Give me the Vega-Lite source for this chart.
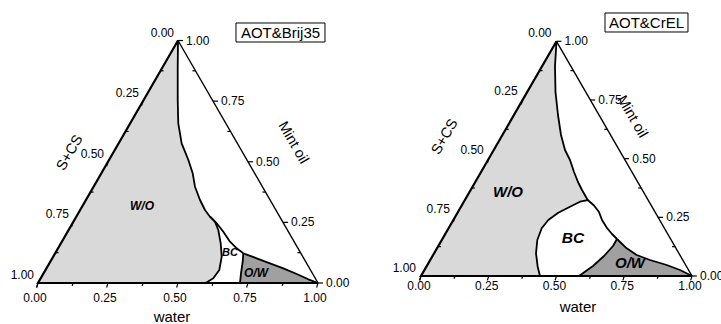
{
  "$schema": "https://vega.github.io/schema/vega-lite/v6.json",
  "padding": 0,
  "spacing": 0,
  "bounds": "flush",
  "config": {"view": {"stroke": null}, "text": {"font": "Liberation Sans", "color": "#000"}},
  "datasets": {
    "lines": [
      {"p":"A","s":"lb","i":0,"x":0.5,"y":0.866},{"p":"A","s":"lb","i":1,"x":0,"y":0},{"p":"A","s":"lb","i":2,"x":1,"y":0},
      {"p":"A","s":"r","i":0,"x":1,"y":0},{"p":"A","s":"r","i":1,"x":0.5,"y":0.866},

      {"p":"L","s":"wo","i":0,"x":0,"y":0},
      {"p":"L","s":"wo","i":1,"x":0.5,"y":0.866},
      {"p":"L","s":"wo","i":2,"x":0.499,"y":0.7725},
      {"p":"L","s":"wo","i":3,"x":0.499,"y":0.6536},
      {"p":"L","s":"wo","i":4,"x":0.501,"y":0.5704},
      {"p":"L","s":"wo","i":5,"x":0.513,"y":0.4989},
      {"p":"L","s":"wo","i":6,"x":0.537,"y":0.4393},
      {"p":"L","s":"wo","i":7,"x":0.5525,"y":0.3918},
      {"p":"L","s":"wo","i":8,"x":0.5607,"y":0.3439},
      {"p":"L","s":"wo","i":9,"x":0.5786,"y":0.2964},
      {"p":"L","s":"wo","i":10,"x":0.5964,"y":0.2607},
      {"p":"L","s":"wo","i":11,"x":0.6143,"y":0.2368},
      {"p":"L","s":"wo","i":12,"x":0.6321,"y":0.2189},
      {"p":"L","s":"wo","i":13,"x":0.6439,"y":0.1893},
      {"p":"L","s":"wo","i":14,"x":0.6525,"y":0.1418},
      {"p":"L","s":"wo","i":15,"x":0.6561,"y":0.0939},
      {"p":"L","s":"wo","i":16,"x":0.6475,"y":0.0464},
      {"p":"L","s":"wo","i":17,"x":0.6261,"y":0.0168},
      {"p":"L","s":"wo","i":18,"x":0.6046,"y":0.0036},
      {"p":"L","s":"wo","i":19,"x":0.5964,"y":0},

      {"p":"L","s":"ow","i":0,"x":0.7332,"y":0.1061},
      {"p":"L","s":"ow","i":1,"x":0.7811,"y":0.0882},
      {"p":"L","s":"ow","i":2,"x":0.8286,"y":0.0704},
      {"p":"L","s":"ow","i":3,"x":0.8761,"y":0.0525},
      {"p":"L","s":"ow","i":4,"x":0.9239,"y":0.0321},
      {"p":"L","s":"ow","i":5,"x":0.9654,"y":0.0132},
      {"p":"L","s":"ow","i":6,"x":1,"y":0},
      {"p":"L","s":"ow","i":7,"x":0.7214,"y":0},
      {"p":"L","s":"ow","i":8,"x":0.725,"y":0.0346},
      {"p":"L","s":"ow","i":9,"x":0.7311,"y":0.0761},

      {"p":"L","s":"c1","i":1,"x":0.5,"y":0.866},
      {"p":"L","s":"c1","i":2,"x":0.499,"y":0.7725},
      {"p":"L","s":"c1","i":3,"x":0.499,"y":0.6536},
      {"p":"L","s":"c1","i":4,"x":0.501,"y":0.5704},
      {"p":"L","s":"c1","i":5,"x":0.513,"y":0.4989},
      {"p":"L","s":"c1","i":6,"x":0.537,"y":0.4393},
      {"p":"L","s":"c1","i":7,"x":0.5525,"y":0.3918},
      {"p":"L","s":"c1","i":8,"x":0.5607,"y":0.3439},
      {"p":"L","s":"c1","i":9,"x":0.5786,"y":0.2964},
      {"p":"L","s":"c1","i":10,"x":0.5964,"y":0.2607},
      {"p":"L","s":"c1","i":11,"x":0.6143,"y":0.2368},
      {"p":"L","s":"c1","i":12,"x":0.6321,"y":0.2189},
      {"p":"L","s":"c1","i":13,"x":0.6439,"y":0.1893},
      {"p":"L","s":"c1","i":14,"x":0.6525,"y":0.1418},
      {"p":"L","s":"c1","i":15,"x":0.6561,"y":0.0939},
      {"p":"L","s":"c1","i":16,"x":0.6475,"y":0.0464},
      {"p":"L","s":"c1","i":17,"x":0.6261,"y":0.0168},
      {"p":"L","s":"c1","i":18,"x":0.6046,"y":0.0036},
      {"p":"L","s":"c1","i":19,"x":0.5964,"y":0},

      {"p":"L","s":"c2","i":0,"x":0.6143,"y":0.2368},
      {"p":"L","s":"c2","i":1,"x":0.6382,"y":0.2132},
      {"p":"L","s":"c2","i":2,"x":0.6618,"y":0.1832},
      {"p":"L","s":"c2","i":3,"x":0.6857,"y":0.1475},
      {"p":"L","s":"c2","i":4,"x":0.7096,"y":0.1239},
      {"p":"L","s":"c2","i":5,"x":0.7332,"y":0.1061},

      {"p":"L","s":"c3","i":0,"x":0.7332,"y":0.1061},
      {"p":"L","s":"c3","i":1,"x":0.7311,"y":0.0761},
      {"p":"L","s":"c3","i":2,"x":0.725,"y":0.0346},
      {"p":"L","s":"c3","i":3,"x":0.7214,"y":0},

      {"p":"L","s":"c4","i":0,"x":0.7332,"y":0.1061},
      {"p":"L","s":"c4","i":1,"x":0.7811,"y":0.0882},
      {"p":"L","s":"c4","i":2,"x":0.8286,"y":0.0704},
      {"p":"L","s":"c4","i":3,"x":0.8761,"y":0.0525},
      {"p":"L","s":"c4","i":4,"x":0.9239,"y":0.0321},
      {"p":"L","s":"c4","i":5,"x":0.9654,"y":0.0132},
      {"p":"L","s":"c4","i":6,"x":1,"y":0},

      {"p":"R","s":"wo","i":0,"x":0,"y":0},
      {"p":"R","s":"wo","i":1,"x":0.5,"y":0.866},
      {"p":"R","s":"wo","i":2,"x":0.4945,"y":0.7749},
      {"p":"R","s":"wo","i":3,"x":0.4963,"y":0.679},
      {"p":"R","s":"wo","i":4,"x":0.5055,"y":0.5941},
      {"p":"R","s":"wo","i":5,"x":0.5166,"y":0.5203},
      {"p":"R","s":"wo","i":6,"x":0.5314,"y":0.4649},
      {"p":"R","s":"wo","i":7,"x":0.5498,"y":0.428},
      {"p":"R","s":"wo","i":8,"x":0.5646,"y":0.3838},
      {"p":"R","s":"wo","i":9,"x":0.5793,"y":0.3469},
      {"p":"R","s":"wo","i":10,"x":0.5941,"y":0.3173},
      {"p":"R","s":"wo","i":11,"x":0.6151,"y":0.2804},
      {"p":"R","s":"wo","i":12,"x":0.5867,"y":0.2742},
      {"p":"R","s":"wo","i":13,"x":0.5498,"y":0.2557},
      {"p":"R","s":"wo","i":14,"x":0.5066,"y":0.2336},
      {"p":"R","s":"wo","i":15,"x":0.4697,"y":0.2066},
      {"p":"R","s":"wo","i":16,"x":0.4454,"y":0.176},
      {"p":"R","s":"wo","i":17,"x":0.4292,"y":0.1328},
      {"p":"R","s":"wo","i":18,"x":0.4244,"y":0.0838},
      {"p":"R","s":"wo","i":19,"x":0.4306,"y":0.0343},
      {"p":"R","s":"wo","i":20,"x":0.4391,"y":0},

      {"p":"R","s":"ow","i":0,"x":0.7232,"y":0.1365},
      {"p":"R","s":"ow","i":1,"x":0.759,"y":0.1022},
      {"p":"R","s":"ow","i":2,"x":0.7959,"y":0.0775},
      {"p":"R","s":"ow","i":3,"x":0.845,"y":0.059},
      {"p":"R","s":"ow","i":4,"x":0.9066,"y":0.0406},
      {"p":"R","s":"ow","i":5,"x":0.9557,"y":0.0221},
      {"p":"R","s":"ow","i":6,"x":1,"y":0},
      {"p":"R","s":"ow","i":7,"x":0.583,"y":0},
      {"p":"R","s":"ow","i":8,"x":0.6347,"y":0.0369},
      {"p":"R","s":"ow","i":9,"x":0.6753,"y":0.0738},
      {"p":"R","s":"ow","i":10,"x":0.7085,"y":0.1107},

      {"p":"R","s":"c1","i":1,"x":0.5,"y":0.866},
      {"p":"R","s":"c1","i":2,"x":0.4945,"y":0.7749},
      {"p":"R","s":"c1","i":3,"x":0.4963,"y":0.679},
      {"p":"R","s":"c1","i":4,"x":0.5055,"y":0.5941},
      {"p":"R","s":"c1","i":5,"x":0.5166,"y":0.5203},
      {"p":"R","s":"c1","i":6,"x":0.5314,"y":0.4649},
      {"p":"R","s":"c1","i":7,"x":0.5498,"y":0.428},
      {"p":"R","s":"c1","i":8,"x":0.5646,"y":0.3838},
      {"p":"R","s":"c1","i":9,"x":0.5793,"y":0.3469},
      {"p":"R","s":"c1","i":10,"x":0.5941,"y":0.3173},
      {"p":"R","s":"c1","i":11,"x":0.6151,"y":0.2804},
      {"p":"R","s":"c1","i":12,"x":0.5867,"y":0.2742},
      {"p":"R","s":"c1","i":13,"x":0.5498,"y":0.2557},
      {"p":"R","s":"c1","i":14,"x":0.5066,"y":0.2336},
      {"p":"R","s":"c1","i":15,"x":0.4697,"y":0.2066},
      {"p":"R","s":"c1","i":16,"x":0.4454,"y":0.176},
      {"p":"R","s":"c1","i":17,"x":0.4292,"y":0.1328},
      {"p":"R","s":"c1","i":18,"x":0.4244,"y":0.0838},
      {"p":"R","s":"c1","i":19,"x":0.4306,"y":0.0343},
      {"p":"R","s":"c1","i":20,"x":0.4391,"y":0},

      {"p":"R","s":"c2","i":0,"x":0.6151,"y":0.2804},
      {"p":"R","s":"c2","i":1,"x":0.6384,"y":0.2601},
      {"p":"R","s":"c2","i":2,"x":0.6568,"y":0.2362},
      {"p":"R","s":"c2","i":3,"x":0.6679,"y":0.2066},
      {"p":"R","s":"c2","i":4,"x":0.6863,"y":0.1771},
      {"p":"R","s":"c2","i":5,"x":0.7048,"y":0.155},
      {"p":"R","s":"c2","i":6,"x":0.7232,"y":0.1365},

      {"p":"R","s":"c3","i":0,"x":0.7232,"y":0.1365},
      {"p":"R","s":"c3","i":1,"x":0.7085,"y":0.1107},
      {"p":"R","s":"c3","i":2,"x":0.6753,"y":0.0738},
      {"p":"R","s":"c3","i":3,"x":0.6347,"y":0.0369},
      {"p":"R","s":"c3","i":4,"x":0.583,"y":0},

      {"p":"R","s":"c4","i":0,"x":0.7232,"y":0.1365},
      {"p":"R","s":"c4","i":1,"x":0.759,"y":0.1022},
      {"p":"R","s":"c4","i":2,"x":0.7959,"y":0.0775},
      {"p":"R","s":"c4","i":3,"x":0.845,"y":0.059},
      {"p":"R","s":"c4","i":4,"x":0.9066,"y":0.0406},
      {"p":"R","s":"c4","i":5,"x":0.9557,"y":0.0221},
      {"p":"R","s":"c4","i":6,"x":1,"y":0}
    ],
    "ticks": [
      {"x":0,"y":0,"x2":-0.005,"y2":-0.016},
      {"x":0.25,"y":0,"x2":0.245,"y2":-0.016},
      {"x":0.5,"y":0,"x2":0.495,"y2":-0.016},
      {"x":0.75,"y":0,"x2":0.745,"y2":-0.016},
      {"x":1,"y":0,"x2":0.995,"y2":-0.016},
      {"x":0.125,"y":0,"x2":0.122,"y2":-0.01},
      {"x":0.375,"y":0,"x2":0.372,"y2":-0.01},
      {"x":0.625,"y":0,"x2":0.622,"y2":-0.01},
      {"x":0.875,"y":0,"x2":0.872,"y2":-0.01},
      {"x":0.5,"y":0.866,"x2":0.495,"y2":0.85},
      {"x":0.375,"y":0.6495,"x2":0.37,"y2":0.6335},
      {"x":0.25,"y":0.433,"x2":0.245,"y2":0.417},
      {"x":0.125,"y":0.2165,"x2":0.12,"y2":0.2005},
      {"x":0,"y":0,"x2":-0.005,"y2":-0.016},
      {"x":0.4375,"y":0.7578,"x2":0.4485,"y2":0.7578},
      {"x":0.3125,"y":0.5413,"x2":0.3235,"y2":0.5413},
      {"x":0.1875,"y":0.3248,"x2":0.1985,"y2":0.3248},
      {"x":0.0625,"y":0.1083,"x2":0.0735,"y2":0.1083},
      {"x":0.5,"y":0.866,"x2":0.518,"y2":0.866},
      {"x":0.625,"y":0.6495,"x2":0.643,"y2":0.6495},
      {"x":0.75,"y":0.433,"x2":0.768,"y2":0.433},
      {"x":0.875,"y":0.2165,"x2":0.893,"y2":0.2165},
      {"x":1,"y":0,"x2":1.018,"y2":0},
      {"x":0.5625,"y":0.7578,"x2":0.5515,"y2":0.7578},
      {"x":0.6875,"y":0.5413,"x2":0.6765,"y2":0.5413},
      {"x":0.8125,"y":0.3248,"x2":0.8015,"y2":0.3248},
      {"x":0.9375,"y":0.1083,"x2":0.9265,"y2":0.1083}
    ],
    "ticklabels": [
      {"ax":"b","t":"0.00","x":0,"y":0},
      {"ax":"b","t":"0.25","x":0.25,"y":0},
      {"ax":"b","t":"0.50","x":0.5,"y":0},
      {"ax":"b","t":"0.75","x":0.75,"y":0},
      {"ax":"b","t":"1.00","x":1,"y":0},
      {"ax":"l","t":"0.00","x":0.5,"y":0.866},
      {"ax":"l","t":"0.25","x":0.375,"y":0.6495},
      {"ax":"l","t":"0.50","x":0.25,"y":0.433},
      {"ax":"l","t":"0.75","x":0.125,"y":0.2165},
      {"ax":"l","t":"1.00","x":0,"y":0},
      {"ax":"r","t":"1.00","x":0.5,"y":0.866},
      {"ax":"r","t":"0.75","x":0.625,"y":0.6495},
      {"ax":"r","t":"0.50","x":0.75,"y":0.433},
      {"ax":"r","t":"0.25","x":0.875,"y":0.2165},
      {"ax":"r","t":"0.00","x":1,"y":0}
    ],
    "texts": [
      {"p":"L","k":"water","t":"water","x":0.4786,"y":-0.1214},
      {"p":"L","k":"scs","t":"S+CS","x":0.1143,"y":0.4643},
      {"p":"L","k":"oil","t":"Mint oil","x":0.9107,"y":0.5},
      {"p":"L","k":"reg","t":"W/O","x":0.3714,"y":0.275,"fs":12},
      {"p":"L","k":"reg","t":"BC","x":0.6857,"y":0.1071,"fs":11},
      {"p":"L","k":"reg","t":"O/W","x":0.7786,"y":0.0357,"fs":12},
      {"p":"L","k":"box","t":"AOT&Brij35","x":0.8661,"y":0.8946},
      {"p":"R","k":"water","t":"water","x":0.5793,"y":-0.1144},
      {"p":"R","k":"scs","t":"S+CS","x":0.0886,"y":0.5129},
      {"p":"R","k":"oil","t":"Mint oil","x":0.7786,"y":0.5867},
      {"p":"R","k":"reg","t":"W/O","x":0.321,"y":0.31,"fs":15},
      {"p":"R","k":"reg","t":"BC","x":0.5609,"y":0.1402,"fs":15.5},
      {"p":"R","k":"reg","t":"O/W","x":0.7712,"y":0.048,"fs":15},
      {"p":"R","k":"box","t":"AOT&CrEL","x":0.8321,"y":0.9354}
    ],
    "boxes": [
      {"p":"L","x":0.7071,"x2":1.025,"y":0.9286,"y2":0.8607},
      {"p":"R","x":0.679,"x2":0.9852,"y":0.9705,"y2":0.9004}
    ]
  },
  "hconcat": [
    {
      "width": 360,
      "height": 324,
      "encoding": {
        "x": {"field": "x", "type": "quantitative", "scale": {"domain": [-0.13571, 1.15], "nice": false, "zero": false}, "axis": null},
        "y": {"field": "y", "type": "quantitative", "scale": {"domain": [-0.14643, 1.01071], "nice": false, "zero": false}, "axis": null}
      },
      "layer": [
        {"data": {"name": "lines"}, "transform": [{"filter": "datum.p == 'L' && datum.s == 'wo'"}],
         "mark": {"type": "line", "fill": "#d9d9d9", "strokeOpacity": 0},
         "encoding": {"order": {"field": "i", "type": "quantitative"}}},
        {"data": {"name": "lines"}, "transform": [{"filter": "datum.p == 'L' && datum.s == 'ow'"}],
         "mark": {"type": "line", "fill": "#a0a0a0", "strokeOpacity": 0},
         "encoding": {"order": {"field": "i", "type": "quantitative"}}},
        {"data": {"name": "lines"}, "transform": [{"filter": "datum.p == 'L' && indexof(['c1','c2','c3','c4'], datum.s) >= 0"}],
         "mark": {"type": "line", "color": "#000", "strokeWidth": 1.8, "strokeJoin": "round"},
         "encoding": {"detail": {"field": "s"}, "order": {"field": "i", "type": "quantitative"}}},
        {"data": {"name": "lines"}, "transform": [{"filter": "datum.s == 'lb'"}],
         "mark": {"type": "line", "color": "#000", "strokeWidth": 2.2},
         "encoding": {"order": {"field": "i", "type": "quantitative"}}},
        {"data": {"name": "lines"}, "transform": [{"filter": "datum.s == 'r'"}],
         "mark": {"type": "line", "color": "#000", "strokeWidth": 1.4},
         "encoding": {"order": {"field": "i", "type": "quantitative"}}},
        {"data": {"name": "ticks"}, "mark": {"type": "rule", "color": "#000", "strokeWidth": 1.2},
         "encoding": {"x2": {"field": "x2"}, "y2": {"field": "y2"}}},
        {"data": {"name": "ticklabels"}, "transform": [{"filter": "datum.ax == 'b'"}],
         "mark": {"type": "text", "fontSize": 12, "align": "center", "baseline": "middle", "dx": -3, "dy": 15},
         "encoding": {"text": {"field": "t"}}},
        {"data": {"name": "ticklabels"}, "transform": [{"filter": "datum.ax == 'l'"}],
         "mark": {"type": "text", "fontSize": 12, "align": "right", "baseline": "middle", "dx": -4, "dy": -8},
         "encoding": {"text": {"field": "t"}}},
        {"data": {"name": "ticklabels"}, "transform": [{"filter": "datum.ax == 'r'"}],
         "mark": {"type": "text", "fontSize": 12, "align": "left", "baseline": "middle", "dx": 8, "dy": 0},
         "encoding": {"text": {"field": "t"}}},
        {"data": {"name": "texts"}, "transform": [{"filter": "datum.p == 'L' && datum.k == 'water'"}],
         "mark": {"type": "text", "fontSize": 15, "align": "center", "baseline": "middle"},
         "encoding": {"text": {"field": "t"}}},
        {"data": {"name": "texts"}, "transform": [{"filter": "datum.p == 'L' && datum.k == 'scs'"}],
         "mark": {"type": "text", "fontSize": 14.5, "align": "center", "baseline": "middle", "angle": -60},
         "encoding": {"text": {"field": "t"}}},
        {"data": {"name": "texts"}, "transform": [{"filter": "datum.p == 'L' && datum.k == 'oil'"}],
         "mark": {"type": "text", "fontSize": 14.5, "align": "center", "baseline": "middle", "angle": 60},
         "encoding": {"text": {"field": "t"}}},
        {"data": {"name": "texts"}, "transform": [{"filter": "datum.p == 'L' && datum.k == 'reg'"}],
         "mark": {"type": "text", "align": "center", "baseline": "middle", "fontWeight": "bold", "fontStyle": "italic"},
         "encoding": {"text": {"field": "t"}, "size": {"field": "fs", "type": "quantitative", "scale": null}}},
        {"data": {"name": "boxes"}, "transform": [{"filter": "datum.p == 'L'"}],
         "mark": {"type": "rect", "fill": null, "stroke": "#000", "strokeWidth": 1},
         "encoding": {"x2": {"field": "x2"}, "y2": {"field": "y2"}}},
        {"data": {"name": "texts"}, "transform": [{"filter": "datum.p == 'L' && datum.k == 'box'"}],
         "mark": {"type": "text", "fontSize": 15, "align": "center", "baseline": "middle"},
         "encoding": {"text": {"field": "t"}}}
      ]
    },
    {
      "width": 361,
      "height": 324,
      "encoding": {
        "x": {"field": "x", "type": "quantitative", "scale": {"domain": [-0.22509, 1.10701], "nice": false, "zero": false}, "axis": null},
        "y": {"field": "y", "type": "quantitative", "scale": {"domain": [-0.17712, 1.01845], "nice": false, "zero": false}, "axis": null}
      },
      "layer": [
        {"data": {"name": "lines"}, "transform": [{"filter": "datum.p == 'R' && datum.s == 'wo'"}],
         "mark": {"type": "line", "fill": "#d9d9d9", "strokeOpacity": 0},
         "encoding": {"order": {"field": "i", "type": "quantitative"}}},
        {"data": {"name": "lines"}, "transform": [{"filter": "datum.p == 'R' && datum.s == 'ow'"}],
         "mark": {"type": "line", "fill": "#a0a0a0", "strokeOpacity": 0},
         "encoding": {"order": {"field": "i", "type": "quantitative"}}},
        {"data": {"name": "lines"}, "transform": [{"filter": "datum.p == 'R' && indexof(['c1','c2','c3','c4'], datum.s) >= 0"}],
         "mark": {"type": "line", "color": "#000", "strokeWidth": 1.8, "strokeJoin": "round"},
         "encoding": {"detail": {"field": "s"}, "order": {"field": "i", "type": "quantitative"}}},
        {"data": {"name": "lines"}, "transform": [{"filter": "datum.s == 'lb'"}],
         "mark": {"type": "line", "color": "#000", "strokeWidth": 2.2},
         "encoding": {"order": {"field": "i", "type": "quantitative"}}},
        {"data": {"name": "lines"}, "transform": [{"filter": "datum.s == 'r'"}],
         "mark": {"type": "line", "color": "#000", "strokeWidth": 1.4},
         "encoding": {"order": {"field": "i", "type": "quantitative"}}},
        {"data": {"name": "ticks"}, "mark": {"type": "rule", "color": "#000", "strokeWidth": 1.2},
         "encoding": {"x2": {"field": "x2"}, "y2": {"field": "y2"}}},
        {"data": {"name": "ticklabels"}, "transform": [{"filter": "datum.ax == 'b'"}],
         "mark": {"type": "text", "fontSize": 12, "align": "center", "baseline": "middle", "dx": -2, "dy": 10},
         "encoding": {"text": {"field": "t"}}},
        {"data": {"name": "ticklabels"}, "transform": [{"filter": "datum.ax == 'l'"}],
         "mark": {"type": "text", "fontSize": 12, "align": "right", "baseline": "middle", "dx": -5, "dy": -8.5},
         "encoding": {"text": {"field": "t"}}},
        {"data": {"name": "ticklabels"}, "transform": [{"filter": "datum.ax == 'r'"}],
         "mark": {"type": "text", "fontSize": 12, "align": "left", "baseline": "middle", "dx": 8, "dy": 0, "clip": true},
         "encoding": {"text": {"field": "t"}}},
        {"data": {"name": "texts"}, "transform": [{"filter": "datum.p == 'R' && datum.k == 'water'"}],
         "mark": {"type": "text", "fontSize": 15, "align": "center", "baseline": "middle"},
         "encoding": {"text": {"field": "t"}}},
        {"data": {"name": "texts"}, "transform": [{"filter": "datum.p == 'R' && datum.k == 'scs'"}],
         "mark": {"type": "text", "fontSize": 14.5, "align": "center", "baseline": "middle", "angle": -60},
         "encoding": {"text": {"field": "t"}}},
        {"data": {"name": "texts"}, "transform": [{"filter": "datum.p == 'R' && datum.k == 'oil'"}],
         "mark": {"type": "text", "fontSize": 14.5, "align": "center", "baseline": "middle", "angle": 60},
         "encoding": {"text": {"field": "t"}}},
        {"data": {"name": "texts"}, "transform": [{"filter": "datum.p == 'R' && datum.k == 'reg'"}],
         "mark": {"type": "text", "align": "center", "baseline": "middle", "fontWeight": "bold", "fontStyle": "italic"},
         "encoding": {"text": {"field": "t"}, "size": {"field": "fs", "type": "quantitative", "scale": null}}},
        {"data": {"name": "boxes"}, "transform": [{"filter": "datum.p == 'R'"}],
         "mark": {"type": "rect", "fill": null, "stroke": "#000", "strokeWidth": 1},
         "encoding": {"x2": {"field": "x2"}, "y2": {"field": "y2"}}},
        {"data": {"name": "texts"}, "transform": [{"filter": "datum.p == 'R' && datum.k == 'box'"}],
         "mark": {"type": "text", "fontSize": 15, "align": "center", "baseline": "middle"},
         "encoding": {"text": {"field": "t"}}}
      ]
    }
  ]
}
